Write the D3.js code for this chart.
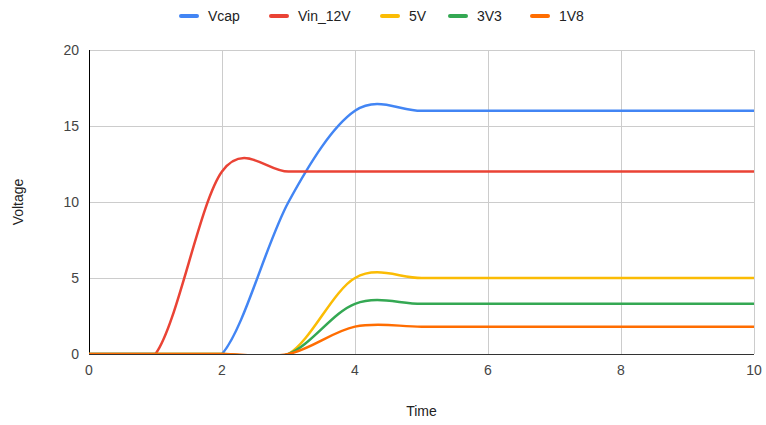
<!DOCTYPE html>
<html><head><meta charset="utf-8">
<script src="https://cdn.jsdelivr.net/npm/d3@7"></script>
<style>body{margin:0;background:#fff}text{font-family:"Liberation Sans",Arial,sans-serif}</style>
</head><body><svg id="c" width="766" height="425"></svg>
<script>
const times = [0,1,2,3,4,5,6,7,8,9,10];
const vcap  = [0,0,0,10,16,16,16,16,16,16,16];
const vin12 = [0,0,12,12,12,12,12,12,12,12,12];
const v5    = [0,0,0,0,5,5,5,5,5,5,5];
const v3v3  = [0,0,0,0,3.3,3.3,3.3,3.3,3.3,3.3,3.3];
const v1v8  = [0,0,0,0,1.8,1.8,1.8,1.8,1.8,1.8,1.8];
const seriesNames = ["Vcap","Vin_12V","5V","3V3","1V8"];
const seriesValues = [vcap, vin12, v5, v3v3, v1v8];
const colors = ["#4285F4","#EA4335","#FBBC04","#34A853","#FF6D01"];
const xTicks = [0,2,4,6,8,10];
const yTicks = [0,5,10,15,20];

const svg = d3.select("#c");
const L=89,R=754,T=50,B=354;
const x = d3.scaleLinear().domain([0,10]).range([L,R]);
const y = d3.scaleLinear().domain([0,20]).range([B,T]);

svg.append("defs").append("clipPath").attr("id","clip").append("rect")
  .attr("x",L).attr("y",T-2).attr("width",R-L+2).attr("height",B-T+2);

const g = svg.append("g");
g.selectAll(".gx").data(xTicks.filter(d=>d>0)).enter().append("line")
  .attr("x1",d=>x(d)).attr("x2",d=>x(d)).attr("y1",T).attr("y2",B)
  .attr("stroke","#cccccc").attr("stroke-width",1).attr("shape-rendering","crispEdges");
g.selectAll(".gy").data(yTicks.filter(d=>d>0)).enter().append("line")
  .attr("x1",L).attr("x2",R).attr("y1",d=>y(d)).attr("y2",d=>y(d))
  .attr("stroke","#cccccc").attr("stroke-width",1).attr("shape-rendering","crispEdges");

g.append("line").attr("x1",L).attr("x2",R).attr("y1",B).attr("y2",B).attr("stroke","#333").attr("stroke-width",1).attr("shape-rendering","crispEdges");
g.append("line").attr("x1",L).attr("x2",L).attr("y1",T).attr("y2",B).attr("stroke","#000").attr("stroke-width",1).attr("shape-rendering","crispEdges");

g.selectAll(".xl").data(xTicks).enter().append("text")
  .attr("x",d=>x(d)).attr("y",B+21).attr("text-anchor","middle")
  .attr("font-size",14).attr("fill","#444").text(d=>d);
g.selectAll(".yl").data(yTicks).enter().append("text")
  .attr("x",L-10).attr("y",d=>y(d)+5).attr("text-anchor","end")
  .attr("font-size",14).attr("fill","#444").text(d=>d);

svg.append("text").attr("x",(L+R)/2).attr("y",416).attr("text-anchor","middle")
  .attr("font-size",14).attr("fill","#222").text("Time");
svg.append("text").attr("transform","translate(23,"+((T+B)/2)+") rotate(-90)")
  .attr("text-anchor","middle").attr("font-size",14).attr("fill","#222").text("Voltage");

const line = d3.line().x((d,i)=>x(times[i])).y(d=>y(d)).curve(d3.curveCardinal.tension(0));
const lg = svg.append("g").attr("clip-path","url(#clip)");
seriesValues.forEach((vals,k)=>{
  lg.append("path").attr("d",line(vals)).attr("fill","none")
    .attr("stroke",colors[k]).attr("stroke-width",2.5).attr("stroke-linejoin","round");
});

const items = [{x:181},{x:271},{x:382},{x:450},{x:532}];
const leg = svg.append("g");
seriesNames.forEach((n,k)=>{
  const lx = items[k].x;
  leg.append("line").attr("x1",lx).attr("x2",lx+16).attr("y1",16).attr("y2",16)
    .attr("stroke",colors[k]).attr("stroke-width",4).attr("stroke-linecap","round");
  leg.append("text").attr("x",lx+27).attr("y",21).attr("font-size",14).attr("fill","#222").text(n);
});
</script></body></html>
